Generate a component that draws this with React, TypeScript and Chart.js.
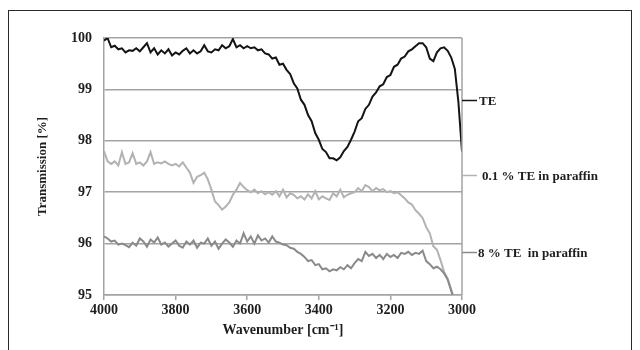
import React, { useEffect, useRef } from "react";
import { Chart, registerables } from "chart.js";

Chart.register(...registerables);

const wavenumbers = [
  4000, 3990, 3980, 3970, 3960, 3950, 3940, 3930, 3920, 3910,
  3900, 3890, 3880, 3870, 3860, 3850, 3840, 3830, 3820, 3810,
  3800, 3790, 3780, 3770, 3760, 3750, 3740, 3730, 3720, 3710,
  3700, 3690, 3680, 3670, 3660, 3650, 3640, 3630, 3620, 3610,
  3600, 3590, 3580, 3570, 3560, 3550, 3540, 3530, 3520, 3510,
  3500, 3490, 3480, 3470, 3460, 3450, 3440, 3430, 3420, 3410,
  3400, 3390, 3380, 3370, 3360, 3350, 3340, 3330, 3320, 3310,
  3300, 3290, 3280, 3270, 3260, 3250, 3240, 3230, 3220, 3210,
  3200, 3190, 3180, 3170, 3160, 3150, 3140, 3130, 3120, 3110,
  3100, 3090, 3080, 3070, 3060, 3050, 3040, 3030, 3020, 3010,
  3000,
];

const teValues = [
  99.95, 100.0, 99.82, 99.85, 99.78, 99.8, 99.72, 99.76, 99.75, 99.8,
  99.74, 99.82, 99.9, 99.72, 99.8, 99.68, 99.76, 99.7, 99.78, 99.66,
  99.72, 99.68, 99.75, 99.8, 99.7, 99.76, 99.7, 99.74, 99.86, 99.74,
  99.72, 99.78, 99.76, 99.86, 99.8, 99.84, 99.98, 99.82, 99.86, 99.8,
  99.84, 99.8, 99.82, 99.76, 99.78, 99.7, 99.68, 99.6, 99.62, 99.48,
  99.5, 99.38, 99.3, 99.12, 99.02, 98.8, 98.7, 98.5, 98.38, 98.15,
  98.02, 97.84, 97.78, 97.66, 97.66, 97.62, 97.68, 97.8, 97.88, 98.02,
  98.18, 98.38, 98.44, 98.62, 98.7, 98.86, 98.94, 99.06, 99.1, 99.24,
  99.28, 99.44, 99.48, 99.6, 99.64, 99.74, 99.78, 99.84, 99.9, 99.9,
  99.82, 99.6, 99.55, 99.72, 99.8, 99.82, 99.75, 99.62, 99.4, 98.75,
  97.79,
];

const te01Values = [
  97.8, 97.6, 97.55, 97.6, 97.52, 97.78, 97.55, 97.58, 97.76, 97.55,
  97.58, 97.52, 97.6, 97.78, 97.55, 97.58, 97.56, 97.6, 97.55, 97.52,
  97.55, 97.5, 97.58, 97.48, 97.38, 97.18, 97.3, 97.33, 97.38, 97.25,
  97.05, 96.82, 96.75, 96.66, 96.72, 96.8, 96.95, 97.05, 97.18, 97.1,
  97.04, 97.0, 97.05, 96.98, 97.02, 96.96, 97.0, 96.95, 97.02, 96.92,
  97.05, 96.9, 96.98, 96.95, 96.88, 96.92, 96.86, 96.96, 96.88, 97.02,
  96.86, 96.92, 96.88, 96.85, 96.98, 96.92, 97.05, 96.9, 96.95, 96.98,
  97.0, 97.08, 97.02, 97.14, 97.1, 97.02, 97.08, 97.04, 97.06, 97.0,
  97.02, 96.98, 97.0, 96.94, 96.88, 96.8, 96.76, 96.65, 96.58, 96.5,
  96.32, 96.2, 95.95, 95.88, 95.68, 95.45, 95.32, 95.1, 94.9, 94.7,
  94.5,
];

const te8Values = [
  96.14, 96.1, 96.04, 96.06, 95.98, 96.0, 95.97, 95.93, 96.02, 95.96,
  96.1, 96.04, 95.94, 96.08, 96.02, 96.12, 95.98, 96.02, 95.94, 96.0,
  96.06, 95.96, 95.92, 96.04, 95.98, 96.06, 95.92, 96.02, 96.0, 96.1,
  95.96, 96.04, 95.9, 96.0, 96.08, 96.02, 95.94, 96.06, 96.0, 96.2,
  96.04, 96.14, 96.0, 96.16, 96.06, 96.1, 96.02, 96.14, 96.04, 96.02,
  95.98, 95.97, 95.92, 95.9, 95.84, 95.8, 95.74, 95.66, 95.68, 95.58,
  95.6, 95.5, 95.52, 95.46, 95.5, 95.48, 95.54, 95.5, 95.58, 95.52,
  95.62, 95.7, 95.66, 95.84, 95.76, 95.8, 95.72, 95.78, 95.7, 95.8,
  95.74, 95.78, 95.72, 95.82, 95.8, 95.84, 95.78, 95.82, 95.8, 95.86,
  95.66, 95.6, 95.52, 95.55, 95.5, 95.42, 95.3, 95.08, 94.85, 94.6,
  94.4,
];

const seriesNames = ["TE", "0.1 % TE in paraffin", "8 % TE  in paraffin"];
const labelAnchors = [98.8, 97.33, 95.84];
const yRange = [95, 100];
const xRange = [3000, 4000];
const xStep = 200;
const yStep = 1;

const seriesColors = ["#141414", "#b2b2b2", "#8a8a8a"];
const gridColor = "#a3a3a3";
const textColor = "#1e1e1e";
const fontFamily = '"Liberation Serif", "Times New Roman", serif';

const decorPlugin = {
  id: "decor",
  afterDraw(chart: any) {
    const { ctx, chartArea, scales } = chart;
    ctx.save();
    ctx.strokeStyle = gridColor;
    ctx.lineWidth = 1.5;
    ctx.beginPath();
    ctx.moveTo(chartArea.right, chartArea.top);
    ctx.lineTo(chartArea.right, chartArea.bottom);
    ctx.stroke();
    const textOffsets = [17, 20, 16];
    ctx.font = `bold 13px ${fontFamily}`;
    ctx.textBaseline = "middle";
    ctx.textAlign = "left";
    seriesNames.forEach((name, i) => {
      const y = Math.round(scales.y.getPixelForValue(labelAnchors[i])) + 0.5;
      ctx.strokeStyle = seriesColors[i];
      ctx.lineWidth = 1.5;
      ctx.beginPath();
      ctx.moveTo(chartArea.right, y);
      ctx.lineTo(chartArea.right + 15, y);
      ctx.stroke();
      ctx.fillStyle = textColor;
      ctx.fillText(name, chartArea.right + textOffsets[i], y + 1);
    });
    ctx.strokeStyle = "#2a2a2a";
    ctx.lineWidth = 1;
    ctx.strokeRect(8.5, 10.5, 623, 400);
    ctx.restore();
  },
};

export default function App() {
  const canvasRef = useRef<HTMLCanvasElement | null>(null);

  useEffect(() => {
    if (!canvasRef.current) return;
    const mk = (vals: number[]) => wavenumbers.map((w, i) => ({ x: w, y: vals[i] }));
    const chart = new Chart(canvasRef.current, {
      type: "line",
      data: {
        datasets: [
          { label: seriesNames[2], data: mk(te8Values), borderColor: seriesColors[2], borderWidth: 2 },
          { label: seriesNames[1], data: mk(te01Values), borderColor: seriesColors[1], borderWidth: 2 },
          { label: seriesNames[0], data: mk(teValues), borderColor: seriesColors[0], borderWidth: 2 },
        ],
      },
      options: {
        responsive: false,
        animation: false,
        parsing: false,
        elements: { point: { radius: 0 }, line: { tension: 0 } },
        layout: { padding: { left: 0, right: 178, top: 38, bottom: 0 } },
        plugins: { legend: { display: false }, tooltip: { enabled: false } },
        scales: {
          x: {
            type: "linear",
            reverse: true,
            min: xRange[0],
            max: xRange[1],
            afterFit: (s: any) => { s.height = 55; },
            ticks: {
              stepSize: xStep,
              color: textColor,
              padding: 2,
              maxRotation: 0,
              callback: (v: any) => String(v),
              font: { family: fontFamily, size: 14, weight: "bold" },
            },
            grid: { drawOnChartArea: false, drawTicks: true, tickLength: 5, color: gridColor, lineWidth: 1.5 },
            border: { color: gridColor, width: 1.5 },
            title: {
              display: true,
              text: "Wavenumber [cm⁻¹]",
              color: textColor,
              font: { family: fontFamily, size: 14, weight: "bold" },
              padding: { top: 0, bottom: 11 },
            },
          },
          y: {
            min: yRange[0],
            max: yRange[1],
            afterFit: (s: any) => { s.width = 104; },
            ticks: {
              stepSize: yStep,
              color: textColor,
              padding: 12,
              callback: (v: any) => String(v),
              font: { family: fontFamily, size: 14, weight: "bold" },
            },
            grid: { drawTicks: false, color: gridColor, lineWidth: 1.5 },
            border: { color: gridColor, width: 1.5 },
            title: {
              display: true,
              text: "Transmission [%]",
              color: textColor,
              font: { family: fontFamily, size: 13, weight: "bold" },
              padding: { top: 35, bottom: 0 },
            },
          },
        },
      },
      plugins: [decorPlugin],
    } as any);
    return () => chart.destroy();
  }, []);

  return (
    <div style={{ position: "absolute", left: 0, top: 0, width: 640, height: 350, background: "#fff" }}>
      <canvas ref={canvasRef} width={640} height={350} />
    </div>
  );
}
